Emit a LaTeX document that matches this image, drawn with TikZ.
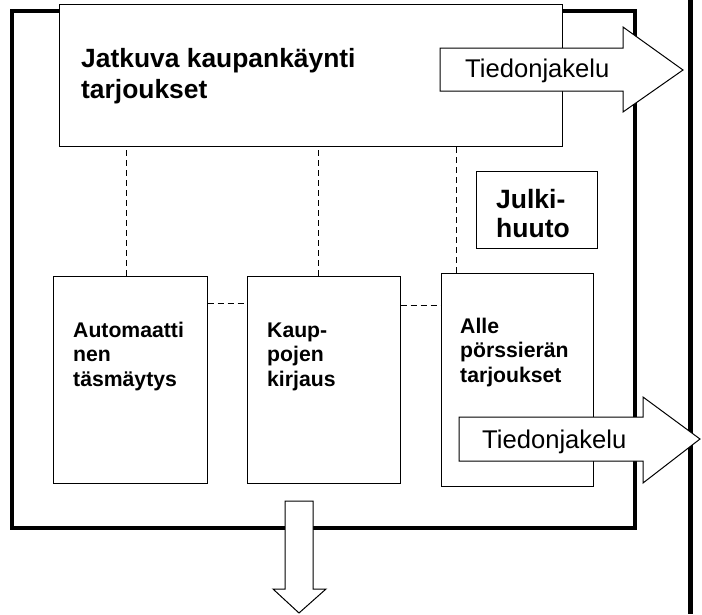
\documentclass[tikz,border=0pt]{standalone}
\usepackage{fontspec}
\setmainfont{Liberation Sans}
\usetikzlibrary{positioning}

\begin{document}
\begin{tikzpicture}[x=1pt,y=-1pt,
    box/.style={draw,line width=1pt,fill=white,inner sep=0pt},
    txt/.style={anchor=base west,align=left,inner sep=0pt,font=\bfseries\fontsize{21.2}{24.5}\selectfont},
    bigtxt/.style={txt,font=\bfseries\fontsize{26.4}{31}\selectfont},
    link/.style={line width=1pt,dash pattern=on 6pt off 4pt},
    blockarrow/.style={draw,line width=1pt,fill=white,line join=miter},
    infotxt/.style={anchor=base west,inner sep=0pt,font=\fontsize{25.6}{30}\selectfont}]

                \useasboundingbox (0,0) rectangle (702,614);

                % frame and the line on the right
                \draw[line width=4pt] (12,11) rectangle (635,528);
                \draw[line width=5pt] (690,0) -- (690,614);

                \node[box,minimum width=503pt,minimum height=142pt] (main) at (310.5,75) {};
                \node[bigtxt] (maintxt) at (81,98) {Jatkuva kaupankäynti\\tarjoukset};

                \node[box,minimum width=121pt,minimum height=77pt] (julki) at (536.5,209.5) {};
                \node[bigtxt,font=\bfseries\fontsize{26.5}{29}\selectfont] (julkitxt) at (496,237) {Julki-\\huuto};

                \node[box,minimum width=154pt,minimum height=207pt] (auto) at (130,379.5) {};
                \node[box,minimum width=153pt,minimum height=207pt] (kirj) [right=39pt of auto] {};
                \node[box,minimum width=152pt,minimum height=213pt] (offer) at (517,379.5) {};

                % text sits on the baseline of its last line
                \node[txt] (autotxt) at (73,386) {Automaatti\\nen\\täsmäytys};
                \node[txt] (kirjtxt) at (267,386) {Kaup-\\pojen\\kirjaus};
                \node[txt] (offertxt) at (460,382) {Alle\\pörssierän\\tarjoukset};

                \foreach \from/\dx in {auto/-4, kirj/-5.5, offer/-61}
                    {
                    \draw[link] ([xshift=\dx pt]\from.north) -- ([xshift=\dx pt]\from.north |- main.south);
                    }

                \foreach \from/\to/\dy in {auto/kirj/28, kirj/offer/30}
                    {
                    \draw[link] ([yshift=-\dy pt]\from.north east) -- ([yshift=-\dy pt]\from.north east -| \to.west);
                    }

                % block arrows
                \draw[blockarrow] (440,48) -- (623,48) -- (623,27) -- (683,70) -- (623,112) -- (623,91) -- (440,91) -- cycle;
                \node[infotxt] (info1) at (465,77) {Tiedonjakelu};

                \draw[blockarrow] (459,417) -- (643,417) -- (643,397) -- (700,439) -- (643,483) -- (643,461) -- (459,461) -- cycle;
                \node[infotxt] (info2) at (482,448) {Tiedonjakelu};

                \draw[blockarrow] (285,501) -- (313,501) -- (313,589) -- (326,589) -- (299,613) -- (273,589) -- (285,589) -- cycle;

            \end{tikzpicture}
\end{document}
